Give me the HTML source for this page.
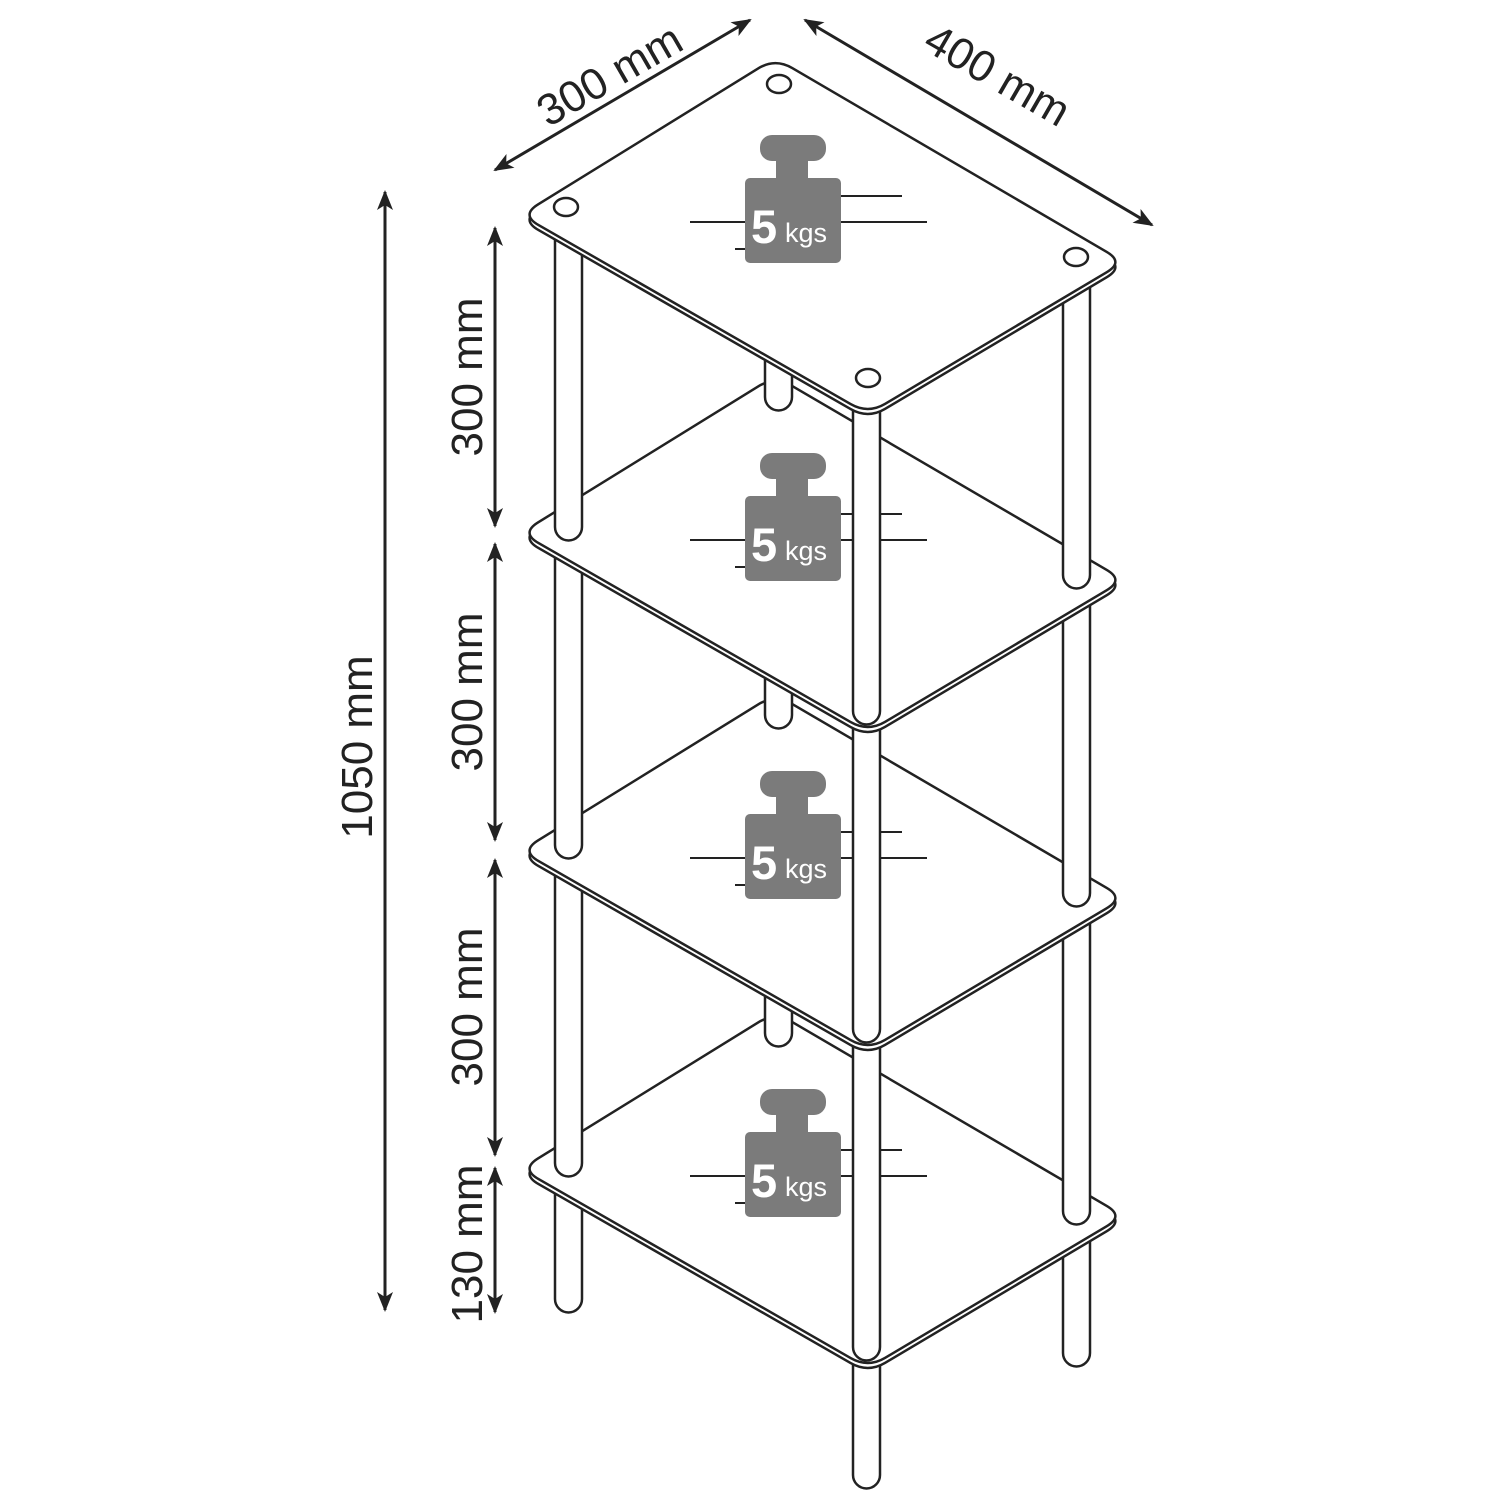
<!DOCTYPE html>
<html><head><meta charset="utf-8"><style>html,body{margin:0;padding:0;background:#fff}svg{display:block}</style></head>
<body>
<svg id="s" width="1500" height="1500" viewBox="0 0 1500 1500" xmlns="http://www.w3.org/2000/svg">
<defs>
<marker id="ah" viewBox="0 0 20 16" refX="18" refY="8" markerWidth="20" markerHeight="16" markerUnits="userSpaceOnUse" orient="auto-start-reverse">
<path d="M0,0 L20,8 L0,16 L5,8 Z" fill="#222"/>
</marker>
</defs>
<g id="draw"></g>
<g fill="none" stroke="#222" stroke-width="3" marker-start="url(#ah)" marker-end="url(#ah)">
<line x1="385" y1="192" x2="385" y2="1310"/>
<line x1="495" y1="228" x2="495" y2="526"/>
<line x1="495" y1="544" x2="495" y2="840"/>
<line x1="495" y1="860" x2="495" y2="1155"/>
<line x1="495" y1="1168" x2="495" y2="1312"/>
<line x1="495" y1="170" x2="750" y2="20"/>
<line x1="805" y1="20" x2="1152" y2="225"/>
</g>
<g font-family="Liberation Sans, sans-serif" font-size="44" fill="#222" text-anchor="middle">
<text transform="translate(372,747) rotate(-90)">1050 mm</text>
<text transform="translate(482,377) rotate(-90)">300 mm</text>
<text transform="translate(482,692) rotate(-90)">300 mm</text>
<text transform="translate(482,1007) rotate(-90)">300 mm</text>
<text transform="translate(482,1244) rotate(-90)">130 mm</text>
<text transform="translate(617,88) rotate(-30)">300 mm</text>
<text transform="translate(990,88) rotate(30)">400 mm</text>
</g>
</svg>
<script>
(function(){
var g=document.getElementById('draw');var h='';
var P=[[775,58],[1124,262],[868,414],[521,215]];var r=20;
function shelfPath(dy){var d='';for(var i=0;i<4;i++){var a=P[(i+3)%4],b=P[i],c=P[(i+1)%4];
function pt(p,q,t){var dx=q[0]-p[0],dyy=q[1]-p[1],L=Math.hypot(dx,dyy);return [p[0]+dx*t/L,p[1]+dyy*t/L];}
var p1=pt(b,a,r),p2=pt(b,c,r);d+=(i==0?'M':'L')+p1[0]+','+(p1[1]+dy)+' Q'+b[0]+','+(b[1]+dy)+' '+p2[0]+','+(p2[1]+dy)+' ';}
return d+'Z';}
function post(x,y1,y2){return '<path d="M'+x+','+y1+' L'+x+','+(y2-13)+' A13.5,13.5 0 0 0 '+(x+27)+','+(y2-13)+' L'+(x+27)+','+y1+'" fill="#fff" stroke="#222" stroke-width="2.5"/>';}
function shelf(dy,holes){var s='<path d="'+shelfPath(dy+5)+'" fill="#fff" stroke="#222" stroke-width="2.5"/><path d="'+shelfPath(dy)+'" fill="#fff" stroke="#222" stroke-width="2.5"/>';
if(holes){[[779,84],[566,207],[1076,257],[868,378]].forEach(function(c){s+='<ellipse cx="'+c[0]+'" cy="'+(c[1]+dy)+'" rx="12" ry="9" fill="#fff" stroke="#222" stroke-width="2.5"/>';});}
return s;}
function weight(dy){var s='';
s+='<line x1="840" y1="'+(196+dy)+'" x2="902" y2="'+(196+dy)+'" stroke="#222" stroke-width="2"/>';
s+='<line x1="690" y1="'+(222+dy)+'" x2="927" y2="'+(222+dy)+'" stroke="#222" stroke-width="2"/>';
s+='<line x1="735" y1="'+(249+dy)+'" x2="746" y2="'+(249+dy)+'" stroke="#222" stroke-width="2"/>';
s+='<rect x="760" y="'+(135+dy)+'" width="66" height="26" rx="12" fill="#7b7b7b"/>';
s+='<rect x="776" y="'+(155+dy)+'" width="32" height="28" fill="#7b7b7b"/>';
s+='<rect x="745" y="'+(178+dy)+'" width="96" height="85" rx="5" fill="#7b7b7b"/>';
s+='<text x="751" y="'+(243+dy)+'" font-family="Liberation Sans, sans-serif" font-weight="bold" font-size="47" fill="#fff">5</text>';
s+='<text x="785" y="'+(242+dy)+'" font-family="Liberation Sans, sans-serif" font-size="27" fill="#fff">kgs</text>';
return s;}
h+=post(555,1150,1312)+post(1063,1200,1366)+post(853,1350,1488);
for(var k=3;k>=0;k--){var dy=k*318;
 h+=shelf(dy,k==0);
 h+=weight(dy);
 if(k>0){var up=(k-1)*318;
  h+=post(765,up+200,dy+92)+post(555,up+200,dy+222)+post(1063,up+250,dy+270)+post(853,up+380,dy+406);}
}
g.innerHTML=h;
})();
</script>
</body></html>
